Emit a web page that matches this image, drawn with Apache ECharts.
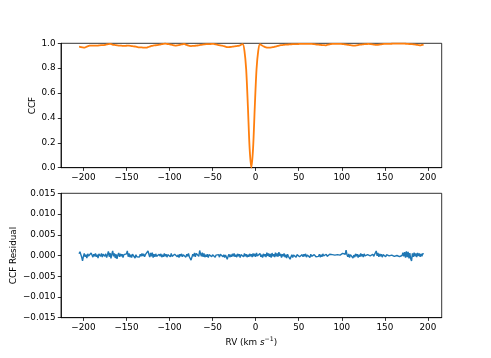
<!DOCTYPE html>
<html>
<head>
<meta charset="utf-8">
<script src="https://cdn.jsdelivr.net/npm/echarts@6/dist/echarts.min.js"></script>
<style>
  html, body { margin: 0; padding: 0; background: #fff; }
  #chart { width: 491px; height: 358px; }
</style>
</head>
<body>
<div id="chart"></div>
<script>
// RV grids (km/s): first sample and spacing
const rvStart = -205;
const ccfStep = 2;
const residualStep = 1;

// CCF (model) values, one per RV sample (step 2 km/s)
const ccfValues = [
  0.973, 0.970, 0.967, 0.965, 0.970, 0.976, 0.981, 0.982, 0.982, 0.981,
  0.981, 0.982, 0.984, 0.985, 0.986, 0.988, 0.991, 0.994, 0.995, 0.992,
  0.988, 0.986, 0.984, 0.982, 0.981, 0.980, 0.979, 0.980, 0.981, 0.981,
  0.979, 0.977, 0.975, 0.973, 0.970, 0.968, 0.967, 0.966, 0.965, 0.965,
  0.969, 0.974, 0.979, 0.982, 0.983, 0.985, 0.987, 0.990, 0.993, 0.996,
  0.997, 0.995, 0.993, 0.990, 0.987, 0.984, 0.981, 0.983, 0.986, 0.989,
  0.992, 0.995, 0.990, 0.984, 0.979, 0.978, 0.979, 0.980, 0.981, 0.983,
  0.985, 0.988, 0.990, 0.992, 0.993, 0.994, 0.994, 0.995, 0.995, 0.992,
  0.989, 0.986, 0.983, 0.981, 0.977, 0.973, 0.969, 0.969, 0.971, 0.973,
  0.975, 0.977, 0.979, 0.981, 0.988, 0.993, 0.940, 0.790, 0.490, 0.155,
  0.000, 0.155, 0.490, 0.790, 0.940, 0.993, 0.985, 0.976, 0.970, 0.966,
  0.965, 0.966, 0.968, 0.970, 0.974, 0.978, 0.982, 0.985, 0.986, 0.988,
  0.989, 0.990, 0.991, 0.992, 0.993, 0.993, 0.994, 0.994, 0.995, 0.995,
  0.995, 0.995, 0.995, 0.995, 0.995, 0.995, 0.994, 0.992, 0.990, 0.989,
  0.987, 0.986, 0.985, 0.984, 0.987, 0.990, 0.993, 0.995, 0.995, 0.995,
  0.995, 0.995, 0.995, 0.994, 0.992, 0.990, 0.988, 0.986, 0.984, 0.982,
  0.981, 0.983, 0.986, 0.989, 0.990, 0.992, 0.993, 0.994, 0.995, 0.994,
  0.992, 0.990, 0.988, 0.987, 0.989, 0.991, 0.993, 0.995, 0.995, 0.996,
  0.996, 0.996, 0.997, 0.997, 0.997, 0.997, 0.997, 0.997, 0.997, 0.997,
  0.996, 0.995, 0.994, 0.993, 0.992, 0.990, 0.988, 0.986, 0.984, 0.987,
  0.990
];

// CCF residual (data - model), one per RV sample (step 1 km/s)
const residualValues = [
  0.0004, 0.0009, 0.0006, -0.0004, -0.0013, -0.0002, 0.0005, -0.0003, 0.0002, -0.0006,
  0.0004, -0.0001, 0.0003, -0.0005, 0.0006, 0.0001, -0.0004, 0.0003, -0.0002, 0.0005,
  -0.0003, 0.0002, -0.0006, 0.0004, 0.0001, -0.0002, 0.0005, -0.0004, 0.0003, 0.0007,
  -0.0002, 0.0004, -0.0005, 0.0002, 0.0010, -0.0003, 0.0006, -0.0007, 0.0003, 0.0011,
  -0.0002, 0.0005, -0.0006, 0.0003, -0.0008, 0.0001, 0.0006, -0.0003, 0.0004, -0.0002,
  0.0003, -0.0005, 0.0002, 0.0006, -0.0001, 0.0004, 0.0011, -0.0003, 0.0005, -0.0004,
  0.0002, -0.0005, 0.0003, -0.0001, 0.0004, -0.0006, 0.0002, -0.0003, -0.0007, 0.0001,
  -0.0004, 0.0003, -0.0002, 0.0005, -0.0001, 0.0004, -0.0003, 0.0002, 0.0006, -0.0002,
  0.0011, 0.0003, -0.0004, 0.0006, -0.0002, 0.0007, -0.0005, 0.0003, -0.0003, 0.0004,
  -0.0002, 0.0001, -0.0005, 0.0003, -0.0002, 0.0004, -0.0004, 0.0002, -0.0003, 0.0005,
  -0.0002, 0.0003, -0.0004, 0.0002, -0.0001, 0.0004, -0.0003, 0.0005, -0.0002, 0.0001,
  -0.0004, 0.0003, -0.0001, 0.0004, -0.0003, 0.0002, -0.0005, 0.0003, -0.0002, 0.0004,
  -0.0003, 0.0002, -0.0001, 0.0004, -0.0004, 0.0003, -0.0002, 0.0005, -0.0003, 0.0001,
  -0.0011, -0.0004, 0.0003, -0.0002, 0.0006, -0.0003, 0.0005, 0.0002, 0.0008, -0.0002,
  0.0012, 0.0004, -0.0002, 0.0007, -0.0003, 0.0005, -0.0004, 0.0002, -0.0003, 0.0003,
  -0.0005, 0.0002, -0.0001, 0.0004, -0.0003, 0.0002, -0.0002, 0.0003, -0.0004, 0.0001,
  0.0003, -0.0003, 0.0002, -0.0004, 0.0003, -0.0001, 0.0004, -0.0003, 0.0002, -0.0005,
  0.0001, -0.0003, -0.0009, -0.0002, 0.0003, -0.0004, 0.0002, -0.0003, 0.0004, -0.0002,
  0.0005, -0.0003, 0.0002, -0.0004, 0.0004, -0.0002, 0.0003, -0.0005, 0.0002, -0.0001,
  0.0004, -0.0003, 0.0005, -0.0002, 0.0003, -0.0004, 0.0002, -0.0003, 0.0004, -0.0002,
  0.0003, -0.0004, 0.0005, -0.0002, 0.0004, -0.0003, 0.0006, -0.0001, 0.0003, -0.0004,
  0.0005, -0.0003, 0.0002, -0.0005, 0.0004, -0.0002, 0.0003, -0.0004, 0.0007, -0.0001,
  0.0005, -0.0003, 0.0004, -0.0005, 0.0006, -0.0002, 0.0003, -0.0004, 0.0007, -0.0002,
  0.0005, -0.0003, 0.0008, -0.0001, 0.0004, -0.0005, 0.0003, -0.0002, 0.0005, -0.0004,
  0.0002, -0.0006, 0.0003, -0.0002, -0.0004, -0.0009, -0.0003, 0.0002, -0.0005, 0.0001,
  -0.0003, 0.0003, -0.0004, 0.0002, -0.0002, 0.0004, -0.0003, 0.0001, -0.0005, 0.0002,
  -0.0003, 0.0003, -0.0002, 0.0004, -0.0004, 0.0001, -0.0003, 0.0002, -0.0005, 0.0003,
  -0.0002, 0.0001, -0.0004, 0.0002, -0.0001, -0.0003, -0.0006, 0.0001, -0.0002, 0.0003,
  -0.0004, 0.0002, -0.0003, 0.0004, -0.0001, 0.0002, -0.0003, 0.0003, -0.0002, 0.0001,
  -0.0004, 0.0003, -0.0001, 0.0004, 0.0002, -0.0002, 0.0003, 0.0001, -0.0001, 0.0004,
  0.0002, 0.0000, 0.0004, 0.0001, 0.0003, -0.0001, 0.0005, 0.0002, 0.0004, 0.0003,
  0.0013, 0.0002, -0.0003, 0.0004, -0.0005, 0.0002, -0.0002, 0.0003, -0.0006, 0.0001,
  -0.0004, 0.0004, -0.0002, 0.0003, -0.0005, 0.0002, -0.0003, 0.0005, -0.0002, 0.0003,
  -0.0004, 0.0004, -0.0001, 0.0003, -0.0003, 0.0002, -0.0002, 0.0004, -0.0001, 0.0002,
  -0.0004, 0.0003, -0.0002, 0.0001, -0.0006, 0.0011, -0.0001, 0.0006, -0.0003, 0.0004,
  -0.0002, 0.0003, -0.0004, 0.0002, -0.0001, 0.0004, -0.0003, 0.0002, -0.0002, 0.0003,
  -0.0001, 0.0002, -0.0002, 0.0001, -0.0001, 0.0003, -0.0002, 0.0001, -0.0001, 0.0000,
  -0.0002, -0.0001, -0.0003, 0.0001, -0.0002, 0.0000, 0.0007, -0.0002, 0.0008, -0.0005,
  0.0010, -0.0004, 0.0009, -0.0007, 0.0006, -0.0008, -0.0013, 0.0005, -0.0003, 0.0007,
  -0.0002, 0.0005, -0.0004, 0.0006, -0.0001, 0.0005, -0.0003, 0.0004, -0.0002, 0.0005,
  0.0003
];

// tick labels
const rvTicks = [-200, -150, -100, -50, 0, 50, 100, 150, 200];

const FONT = 'DejaVu Sans';
const FS = 8.8;

const ccfData = ccfValues.map((v, i) => [rvStart + i * ccfStep, v]);
const residualData = residualValues.map((v, i) => [rvStart + i * residualStep, v]);

const minus = s => String(s).replace('-', '\u2212');

function xAxisOpt(gridIndex, withName) {
  return {
    type: 'value',
    gridIndex: gridIndex,
    min: -226,
    max: 216,
    splitLine: { show: false },
    axisLine: { onZero: false, lineStyle: { color: '#000', width: 0.8 } },
    axisTick: { length: 3.2, lineStyle: { color: '#000', width: 0.8 }, customValues: rvTicks },
    axisLabel: {
      customValues: rvTicks, margin: 5.5, color: '#000',
      fontFamily: FONT, fontSize: FS,
      formatter: v => minus(v)
    },
    name: withName ? '{t|RV (km }{i|s}{sup|\u22121}{t|)}' : '',
    nameLocation: 'middle',
    nameGap: 19,
    nameMoveOverlap: false,
    nameTextStyle: {
      color: '#000', fontFamily: FONT, fontSize: FS,
      rich: {
        t: { fontFamily: FONT, fontSize: FS, color: '#000', lineHeight: 12 },
        i: { fontFamily: FONT, fontSize: FS, color: '#000', fontStyle: 'italic', lineHeight: 12 },
        sup: { fontFamily: FONT, fontSize: 6.2, color: '#000', verticalAlign: 'top', lineHeight: 7 }
      }
    }
  };
}

const chart = echarts.init(document.getElementById('chart'));
chart.setOption({
  animation: false,
  backgroundColor: '#fff',
  grid: [
    { left: 61, width: 380.7, top: 43.3, height: 124.4, show: true, borderColor: '#000', borderWidth: 0.8 },
    { left: 61, width: 380.7, top: 193.3, height: 124.4, show: true, borderColor: '#000', borderWidth: 0.8 }
  ],
  xAxis: [xAxisOpt(0, false), xAxisOpt(1, true)],
  yAxis: [
    {
      type: 'value', gridIndex: 0, min: 0, max: 1, interval: 0.2,
      splitLine: { show: false },
      axisLine: { show: true, onZero: false, lineStyle: { color: '#000', width: 0.8 } },
      axisTick: { show: true, length: 3.2, lineStyle: { color: '#000', width: 0.8 } },
      axisLabel: { margin: 5.5, color: '#000', fontFamily: FONT, fontSize: FS, formatter: v => v.toFixed(1) },
      name: 'CCF', nameLocation: 'middle', nameGap: 24, nameMoveOverlap: false,
      nameTextStyle: { color: '#000', fontFamily: FONT, fontSize: FS }
    },
    {
      type: 'value', gridIndex: 1, min: -0.015, max: 0.015, interval: 0.005,
      splitLine: { show: false },
      axisLine: { show: true, onZero: false, lineStyle: { color: '#000', width: 0.8 } },
      axisTick: { show: true, length: 3.2, lineStyle: { color: '#000', width: 0.8 } },
      axisLabel: {
        margin: 5.5, color: '#000', fontFamily: FONT, fontSize: FS,
        formatter: v => Math.abs(v) < 1e-9 ? '0.000' : minus(v.toFixed(3))
      },
      name: 'CCF Residual', nameLocation: 'middle', nameGap: 43, nameMoveOverlap: false,
      nameTextStyle: { color: '#000', fontFamily: FONT, fontSize: FS }
    }
  ],
  series: [
    {
      type: 'line', xAxisIndex: 0, yAxisIndex: 0, data: ccfData,
      showSymbol: false, clip: false, smooth: 0.3,
      lineStyle: { color: '#ff7f0e', width: 1.8 }
    },
    {
      type: 'line', xAxisIndex: 1, yAxisIndex: 1, data: residualData,
      showSymbol: false,
      lineStyle: { color: '#1f77b4', width: 1.4 }
    }
  ]
});
</script>
</body>
</html>
